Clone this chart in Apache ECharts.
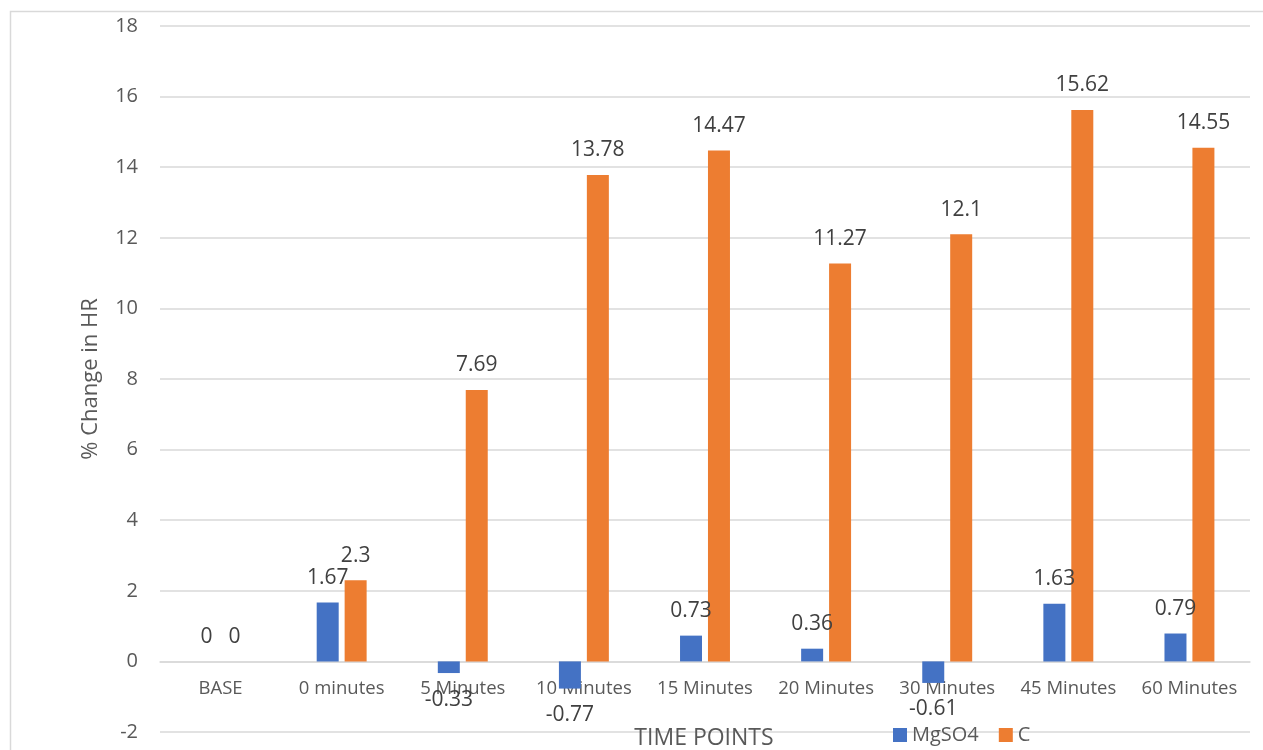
<!DOCTYPE html>
<html>
<head>
<meta charset="utf-8">
<script src="https://cdn.jsdelivr.net/npm/echarts@6/dist/echarts.min.js"></script>
<style>
  html, body { margin: 0; padding: 0; background: #fff; }
  #chart { width: 1263px; height: 750px; }
</style>
</head>
<body>
<div id="chart"></div>
<script>
// Time points along the x axis
const categories = ['BASE', '0 minutes', '5 Minutes', '10 Minutes', '15 Minutes', '20 Minutes', '30 Minutes', '45 Minutes', '60 Minutes'];
// % change in heart rate per group
const mgso4Values = [0, 1.67, -0.33, -0.77, 0.73, 0.36, -0.61, 1.63, 0.79];
const cValues = [0, 2.3, 7.69, 13.78, 14.47, 11.27, 12.1, 15.62, 14.55];
// Value axis range
const yMin = -2, yMax = 18, yStep = 2;

const FONT = '"Open Sans", "Noto Sans", sans-serif';
const textDark = '#404040';
const textGrey = '#595959';
const gridGrey = '#d9d9d9';

const GRID_TOP = 26, GRID_BOTTOM = 18, CHART_H = 750;
// Category axis sits on the zero line: shift it up from the grid bottom
const plotH = CHART_H - GRID_TOP - GRID_BOTTOM;
const zeroShift = plotH * (0 - yMin) / (yMax - yMin);

// Labels sit above positive bars and below negative ones
function withLabels(values) {
  return values.map(v => ({
    value: v,
    label: { position: v < 0 ? 'bottom' : 'top', distance: v < 0 ? 16 : 14 }
  }));
}

const chart = echarts.init(document.getElementById('chart'), null, { renderer: 'canvas' });

chart.setOption({
  animation: false,
  backgroundColor: '#ffffff',
  textStyle: { fontFamily: FONT },
  grid: { left: 160, right: 13, top: GRID_TOP, bottom: GRID_BOTTOM, containLabel: false, outerBoundsMode: 'none' },
  title: {
    text: 'TIME POINTS',
    left: 704, top: 726,
    padding: 0,
    textAlign: 'center',
    textStyle: { fontFamily: FONT, fontSize: 23, fontWeight: 'normal', color: textGrey, lineHeight: 24 }
  },
  legend: {
    left: 893, top: 725,
    padding: 0,
    itemWidth: 14, itemHeight: 14, itemGap: 20,
    icon: 'rect',
    textStyle: { fontFamily: FONT, fontSize: 20, color: textGrey },
    data: ['MgSO4', 'C']
  },
  xAxis: {
    type: 'category',
    data: categories,
    offset: -zeroShift,
    axisLine: { onZero: false, lineStyle: { color: gridGrey, width: 1.5 } },
    axisTick: { show: false },
    axisLabel: { fontFamily: FONT, fontSize: 18.5, color: textGrey, margin: 18, interval: 0 },
    splitLine: { show: false }
  },
  yAxis: {
    type: 'value',
    min: yMin, max: yMax, interval: yStep,
    name: '% Change in HR',
    nameLocation: 'middle',
    nameGap: 58,
    nameRotate: 90,
    nameTextStyle: { fontFamily: FONT, fontSize: 22, color: textGrey },
    axisLine: { show: false },
    axisTick: { show: false },
    axisLabel: { fontFamily: FONT, fontSize: 20, color: textGrey, margin: 22 },
    splitLine: { lineStyle: { color: gridGrey, width: 1.5 } }
  },
  series: [
    {
      name: 'MgSO4',
      type: 'bar',
      barWidth: 22,
      barGap: '27%',
      itemStyle: { color: '#4472C4' },
      label: { show: true, fontFamily: FONT, fontSize: 21, color: textDark },
      data: withLabels(mgso4Values)
    },
    {
      name: 'C',
      type: 'bar',
      barWidth: 22,
      itemStyle: { color: '#ED7D31' },
      label: { show: true, fontFamily: FONT, fontSize: 21, color: textDark },
      data: withLabels(cValues)
    }
  ],
  graphic: [
    {
      type: 'rect',
      silent: true,
      shape: { x: 10.5, y: 11.5, width: 1270, height: 760 },
      style: { fill: 'none', stroke: gridGrey, lineWidth: 1.5 }
    }
  ]
});
</script>
</body>
</html>
